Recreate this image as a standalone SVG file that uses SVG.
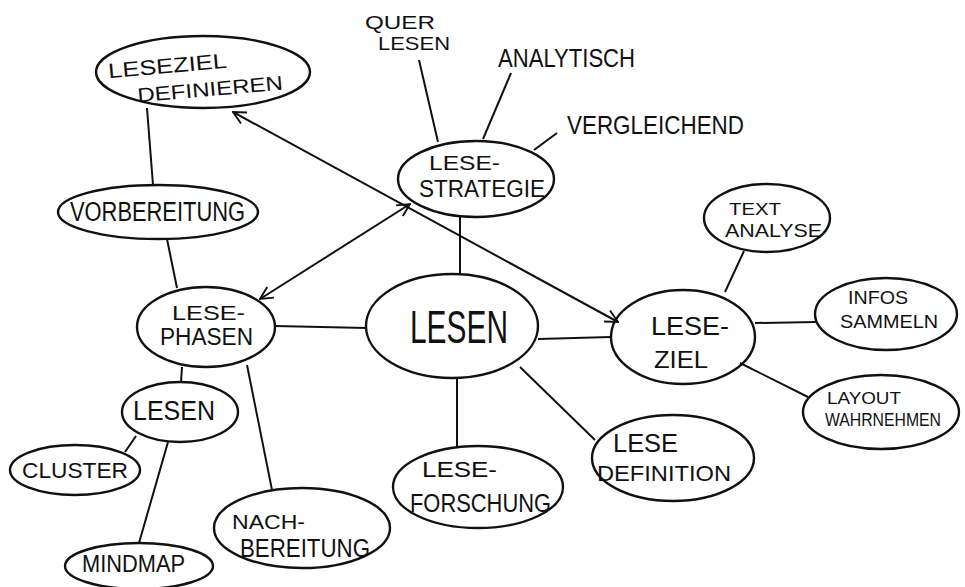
<svg xmlns="http://www.w3.org/2000/svg" width="965" height="587" viewBox="0 0 965 587">
<defs>
<style>
.n{fill:none;stroke:#111;stroke-width:2.4}
.c line{stroke:#111;stroke-width:2}
.t{font-family:"Liberation Sans","DejaVu Sans",sans-serif;fill:#111}
</style>
<marker id="ah" viewBox="0 0 12 12" refX="11" refY="6" markerWidth="15" markerHeight="15" markerUnits="userSpaceOnUse" orient="auto-start-reverse">
<path d="M1,1 L11,6 L1,11" fill="none" stroke="#111" stroke-width="1.5"/>
</marker>
</defs>
<rect width="965" height="587" fill="#fff"/>
<g id="connectors" class="c">
<line x1="147" y1="108" x2="153" y2="185"/>
<line x1="167" y1="239" x2="177" y2="288"/>
<line x1="275" y1="326" x2="367" y2="328"/>
<line x1="182" y1="367" x2="181" y2="382"/>
<line x1="136" y1="436" x2="125" y2="452"/>
<line x1="168" y1="442" x2="139" y2="543"/>
<line x1="247" y1="365" x2="272" y2="490"/>
<line x1="460" y1="217" x2="460" y2="275"/>
<line x1="538" y1="339" x2="611" y2="337"/>
<line x1="457" y1="378" x2="457" y2="447"/>
<line x1="520" y1="367" x2="595" y2="440"/>
<line x1="419" y1="60" x2="438" y2="142"/>
<line x1="511" y1="73" x2="483" y2="139"/>
<line x1="557" y1="133" x2="534" y2="150"/>
<line x1="744" y1="251" x2="725" y2="292"/>
<line x1="755" y1="323" x2="816" y2="322"/>
<line x1="740" y1="363" x2="808" y2="397"/>
<line x1="233" y1="112" x2="618" y2="322" marker-start="url(#ah)" marker-end="url(#ah)"/>
<line x1="410" y1="204" x2="260" y2="299" marker-start="url(#ah)" marker-end="url(#ah)"/>
</g>
<g id="leseziel-definieren">
<ellipse class="n" cx="203" cy="72" rx="107" ry="36"/>
<text class="t" transform="rotate(-5 168 66)" x="108" y="73" font-size="21" textLength="119" lengthAdjust="spacingAndGlyphs">LESEZIEL</text>
<text class="t" transform="rotate(-5 210 88)" x="137" y="96" font-size="20" textLength="146" lengthAdjust="spacingAndGlyphs">DEFINIEREN</text>
</g>
<g id="vorbereitung">
<ellipse class="n" cx="158" cy="212" rx="100" ry="27"/>
<text class="t" x="70" y="221" font-size="27" textLength="175" lengthAdjust="spacingAndGlyphs">VORBEREITUNG</text>
</g>
<g id="lese-phasen">
<ellipse class="n" cx="206" cy="327" rx="69" ry="40"/>
<text class="t" x="172" y="320" font-size="21" textLength="73" lengthAdjust="spacingAndGlyphs">LESE-</text>
<text class="t" x="160" y="345" font-size="23" textLength="93" lengthAdjust="spacingAndGlyphs">PHASEN</text>
</g>
<g id="lesen-phase">
<ellipse class="n" cx="180" cy="412" rx="58" ry="30"/>
<text class="t" x="133" y="420" font-size="27" textLength="82" lengthAdjust="spacingAndGlyphs">LESEN</text>
</g>
<g id="cluster">
<ellipse class="n" cx="75" cy="470" rx="65" ry="25"/>
<text class="t" x="22" y="478" font-size="22" textLength="106" lengthAdjust="spacingAndGlyphs">CLUSTER</text>
</g>
<g id="mindmap">
<ellipse class="n" cx="139" cy="566" rx="74" ry="23"/>
<text class="t" x="82" y="572" font-size="23" textLength="103" lengthAdjust="spacingAndGlyphs">MINDMAP</text>
</g>
<g id="nachbereitung">
<ellipse class="n" cx="302" cy="528" rx="88" ry="40"/>
<text class="t" x="232" y="529" font-size="20" textLength="73" lengthAdjust="spacingAndGlyphs">NACH-</text>
<text class="t" x="240" y="557" font-size="25" textLength="130" lengthAdjust="spacingAndGlyphs">BEREITUNG</text>
</g>
<g id="lesen">
<ellipse class="n" cx="452" cy="326" rx="86" ry="52"/>
<text class="t" x="410" y="343" font-size="46" textLength="98" lengthAdjust="spacingAndGlyphs">LESEN</text>
</g>
<g id="lese-strategie">
<ellipse class="n" cx="476" cy="179" rx="78" ry="38"/>
<text class="t" x="429" y="170" font-size="21" textLength="71" lengthAdjust="spacingAndGlyphs">LESE-</text>
<text class="t" x="419" y="197" font-size="23" textLength="126" lengthAdjust="spacingAndGlyphs">STRATEGIE</text>
</g>
<g id="quer-lesen">
<text class="t" x="365" y="29" font-size="19" textLength="70" lengthAdjust="spacingAndGlyphs">QUER</text>
<text class="t" x="378" y="50" font-size="19" textLength="72" lengthAdjust="spacingAndGlyphs">LESEN</text>
</g>
<g id="analytisch">
<text class="t" x="498" y="67" font-size="25" textLength="137" lengthAdjust="spacingAndGlyphs">ANALYTISCH</text>
</g>
<g id="vergleichend">
<text class="t" x="567" y="134" font-size="26" textLength="177" lengthAdjust="spacingAndGlyphs">VERGLEICHEND</text>
</g>
<g id="text-analyse">
<ellipse class="n" cx="767" cy="218" rx="63" ry="34"/>
<text class="t" x="729" y="215" font-size="17" textLength="52" lengthAdjust="spacingAndGlyphs">TEXT</text>
<text class="t" x="725" y="237" font-size="18" textLength="97" lengthAdjust="spacingAndGlyphs">ANALYSE</text>
</g>
<g id="lese-ziel">
<ellipse class="n" cx="683" cy="337" rx="72" ry="47"/>
<text class="t" x="651" y="335" font-size="25" textLength="78" lengthAdjust="spacingAndGlyphs">LESE-</text>
<text class="t" x="654" y="368" font-size="23" textLength="54" lengthAdjust="spacingAndGlyphs">ZIEL</text>
</g>
<g id="infos-sammeln">
<ellipse class="n" cx="886" cy="314" rx="71" ry="36"/>
<text class="t" x="848" y="304" font-size="19" textLength="60" lengthAdjust="spacingAndGlyphs">INFOS</text>
<text class="t" x="840" y="328" font-size="19" textLength="98" lengthAdjust="spacingAndGlyphs">SAMMELN</text>
</g>
<g id="layout-wahrnehmen">
<ellipse class="n" cx="881" cy="412" rx="78" ry="37"/>
<text class="t" x="827" y="404" font-size="17" textLength="74" lengthAdjust="spacingAndGlyphs">LAYOUT</text>
<text class="t" x="825" y="426" font-size="19" textLength="116" lengthAdjust="spacingAndGlyphs">WAHRNEHMEN</text>
</g>
<g id="lese-definition">
<ellipse class="n" cx="673" cy="458" rx="81" ry="43"/>
<text class="t" x="613" y="452" font-size="26" textLength="65" lengthAdjust="spacingAndGlyphs">LESE</text>
<text class="t" x="597" y="481" font-size="22" textLength="134" lengthAdjust="spacingAndGlyphs">DEFINITION</text>
</g>
<g id="lese-forschung">
<ellipse class="n" cx="478" cy="487" rx="85" ry="41"/>
<text class="t" x="422" y="477" font-size="22" textLength="75" lengthAdjust="spacingAndGlyphs">LESE-</text>
<text class="t" x="410" y="512" font-size="25" textLength="141" lengthAdjust="spacingAndGlyphs">FORSCHUNG</text>
</g>
</svg>
